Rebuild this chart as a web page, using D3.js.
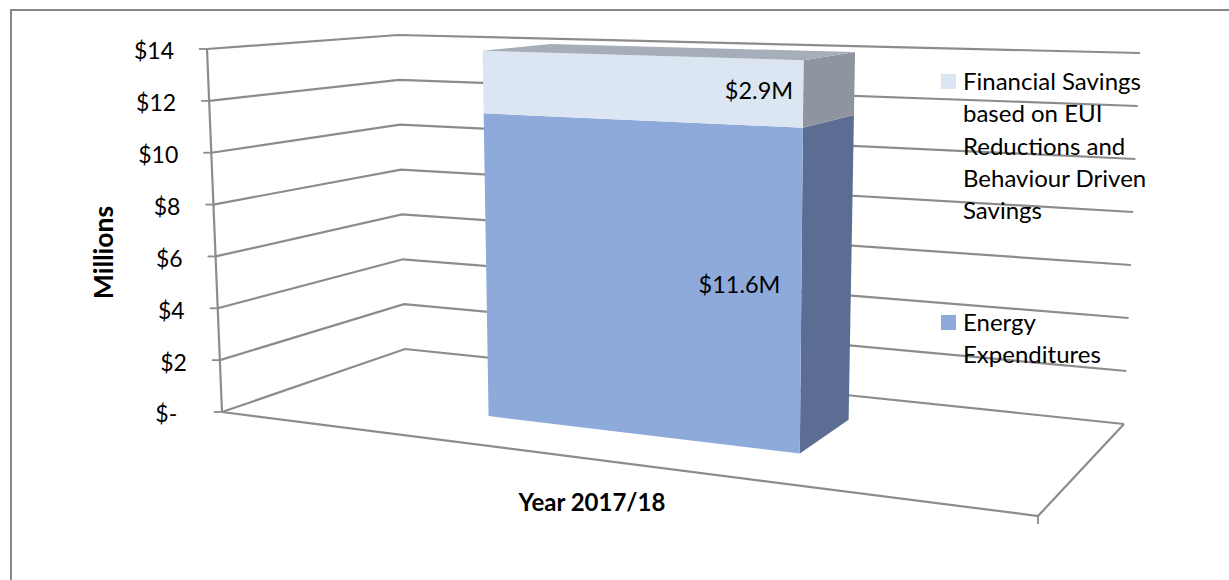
<!DOCTYPE html>
<html>
<head>
<meta charset="utf-8">
<script src="https://cdn.jsdelivr.net/npm/d3@7"></script>
<style>
  html, body { margin: 0; padding: 0; background: #fff; }
  svg { display: block; }
  text { font-family: Lato, "Open Sans", sans-serif; fill: #000; white-space: pre; }
</style>
</head>
<body>
<svg id="chart" width="1229" height="580"></svg>
<script>
// Chart content
const years = ["Year 2017/18"];
const seriesNames = ["Energy Expenditures", "Financial Savings"];
const energyValues = [11.6];
const savingsValues = [2.9];
const barLabels = ["$11.6M", "$2.9M"];
const axisTicks = [0, 2, 4, 6, 8, 10, 12, 14];
const legendFinancial = ["Financial Savings", "based on EUI", "Reductions and", "Behaviour Driven", "Savings"];
const legendEnergy = ["Energy", "Expenditures"];

const svg = d3.select("#chart");
const GRID = "#8c8c8c";
const TICK_FONT = 23;
const LEGEND_FONT = 24;

// Plot box as seen in the 3-D view: [x, y] of each floor corner and of the
// same corner at the top of the value axis.
const floor = { fl: [222, 412], bl: [405, 349], br: [1124, 424], fr: [1038, 516] };
const ceil  = { fl: [207, 49],  bl: [398, 35],  br: [1140, 53],  fr: [1048, 76] };

const mix = (a, b, t) => [a[0] + (b[0] - a[0]) * t, a[1] + (b[1] - a[1]) * t];
const quad = (c, u, v) => mix(mix(c.fl, c.fr, u), mix(c.bl, c.br, u), v);

// Value axis mapped to a 0..1 height between floor and ceiling; marks stop at the axis maximum.
const heightScale = d3.scaleLinear().domain([0, 14]).range([0, 1]).clamp(true);
// Project a (across, depth, value-height) position onto the page.
const project = (u, v, h) => mix(quad(floor, u, v), quad(ceil, u, v), h);
const line = d3.line();

// Category and depth placement of the column within the floor.
const across = d3.scaleBand().domain(years).range([0.263, 0.66]);
const depth = d3.scaleLinear().domain([0, 1]).range([0.33, 0.74]);

// Outer chart frame, open to the right and below.
svg.append("path")
  .attr("d", "M11,580V10H1229")
  .attr("fill", "none").attr("stroke", "#868686").attr("stroke-width", 2);

// Gridlines along the left and back walls.
const grid = svg.append("g").attr("fill", "none").attr("stroke", GRID).attr("stroke-width", 2.2);
grid.selectAll("path").data(axisTicks).join("path")
  .attr("d", t => {
    const h = heightScale(t);
    return line([project(0, 0, h), project(0, 1, h), project(1, 1, h)]);
  });

// Value axis, its ticks and labels.
const axis = svg.append("g");
axis.append("path")
  .attr("d", line([project(0, 0, 0), project(0, 0, 1)]))
  .attr("stroke", GRID).attr("stroke-width", 2.2).attr("fill", "none");
const tick = axis.selectAll("g").data(axisTicks).join("g")
  .attr("transform", t => `translate(${project(0, 0, heightScale(t))})`);
tick.append("line").attr("x1", -8).attr("x2", 0).attr("stroke", GRID).attr("stroke-width", 1.8);
tick.append("text")
  .attr("x", -33).attr("y", 3)
  .attr("dy", "0.32em").attr("text-anchor", "end")
  .style("font-size", TICK_FONT + "px")
  .text(t => t === 0 ? "$-  " : "$" + t);

// Floor outline.
svg.append("path")
  .attr("d", line([floor.fl, floor.fr, floor.br]))
  .attr("fill", "none").attr("stroke", GRID).attr("stroke-width", 2.2);
svg.append("line")
  .attr("x1", floor.fr[0]).attr("y1", floor.fr[1])
  .attr("x2", floor.fr[0]).attr("y2", floor.fr[1] + 8)
  .attr("stroke", GRID).attr("stroke-width", 1.8);

// Stacked 3-D column.
const u0 = across(years[0]);
const u1 = u0 + across.bandwidth();
const v0 = depth(0);
const v1 = depth(1);
const stack = [
  { from: 0, to: energyValues[0], front: "#8eaadb", side: "#5b6d92", top: null },
  { from: energyValues[0], to: energyValues[0] + savingsValues[0], front: "#dce6f2", side: "#8f959f", top: "#a6aeb9" }
];
const col = svg.append("g");
stack.forEach(s => {
  const a = heightScale(s.from), b = heightScale(s.to);
  col.append("path").attr("fill", s.side)
    .attr("d", line([project(u1, v0, a), project(u1, v1, a), project(u1, v1, b), project(u1, v0, b)]) + "Z");
  col.append("path").attr("fill", s.front)
    .attr("d", line([project(u0, v0, a), project(u1, v0, a), project(u1, v0, b), project(u0, v0, b)]) + "Z");
  if (s.top) {
    col.append("path").attr("fill", s.top)
      .attr("d", line([project(u0, v0, b), project(u1, v0, b), project(u1, v1, b), project(u0, v1, b)]) + "Z");
  }
});

// Value labels on the column.
const labelAt = [[739.5, 293], [759, 99]];
svg.append("g").selectAll("text").data(barLabels).join("text")
  .attr("x", (d, i) => labelAt[i][0]).attr("y", (d, i) => labelAt[i][1])
  .attr("text-anchor", "middle").style("font-size", "23.5px")
  .text(d => d);

// Legend.
const legend = svg.append("g");
[
  { lines: legendFinancial, color: "#dce6f2", top: 74 },
  { lines: legendEnergy, color: "#8eaadb", top: 315 }
].forEach(e => {
  legend.append("rect").attr("x", 941).attr("y", e.top).attr("width", 15).attr("height", 15).attr("fill", e.color);
  legend.selectAll(null).data(e.lines).join("text")
    .attr("x", 963).attr("y", (d, i) => e.top + 16 + i * 32.3)
    .style("font-size", LEGEND_FONT + "px")
    .text(d => d);
});

// Axis titles.
svg.append("text")
  .attr("x", 592).attr("y", 511).attr("text-anchor", "middle")
  .style("font-size", "24px").style("font-weight", 700)
  .text(years[0]);
svg.append("text")
  .attr("transform", "translate(113,252.5) rotate(-90)")
  .attr("text-anchor", "middle")
  .style("font-size", "26.5px").style("font-weight", 700)
  .text("Millions");
</script>
</body>
</html>
